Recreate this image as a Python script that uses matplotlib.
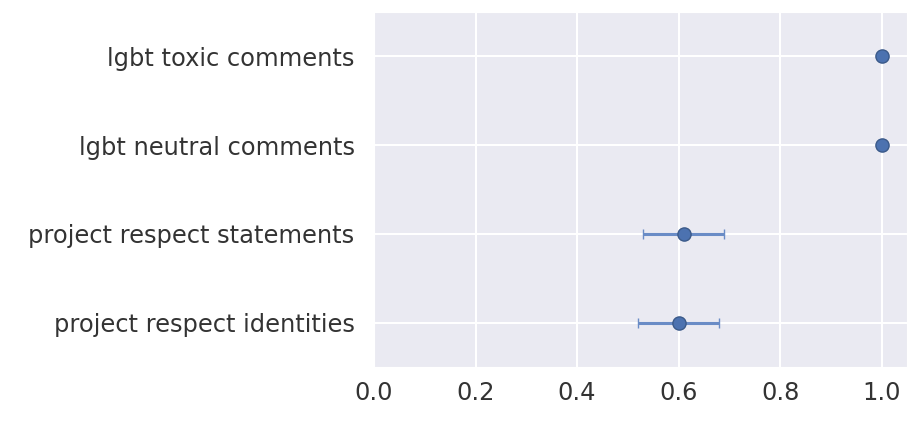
import matplotlib
matplotlib.use("Agg")
import matplotlib.pyplot as plt
import seaborn as sns

sns.set_style("darkgrid")
plt.rcParams['font.family'] = ['DejaVu Sans']

labels = ["lgbt toxic comments", "lgbt neutral comments",
          "project respect statements", "project respect identities"]
means = [1.0, 1.0, 0.611, 0.601]
lower = [1.0, 1.0, 0.529, 0.520]
upper = [1.0, 1.0, 0.690, 0.680]

fig = plt.figure(figsize=(9.18, 4.22), dpi=100)
ax = fig.add_axes([0.4074, 0.1303, 0.5806, 0.8413])

ypos = list(range(len(labels)))
xerr = [[m - lo for m, lo in zip(means, lower)],
        [hi - m for m, hi in zip(means, upper)]]
ax.errorbar(means, ypos, xerr=xerr, fmt="none", ecolor="#6a8cc6",
            elinewidth=2.2, capsize=3.8, capthick=1.0, zorder=2)
ax.plot(means, ypos, "o", color="#4C72B0", markeredgecolor="#3b5a8a",
        markeredgewidth=1.0, markersize=9.5, zorder=3)

ax.set_yticks(ypos)
ax.set_yticklabels(labels)
ax.set_ylim(len(labels) - 0.5, -0.5)
ax.set_xlim(0, 1.05)
ax.set_xticks([0.0, 0.2, 0.4, 0.6, 0.8, 1.0])
ax.grid(True, color="white", linewidth=1.5)
ax.tick_params(axis="y", length=0, pad=14, labelsize=17.4, labelcolor="#333333")
ax.tick_params(axis="x", length=0, pad=10, labelsize=17.4, labelcolor="#333333")

fig.savefig("out.png", dpi=100)
